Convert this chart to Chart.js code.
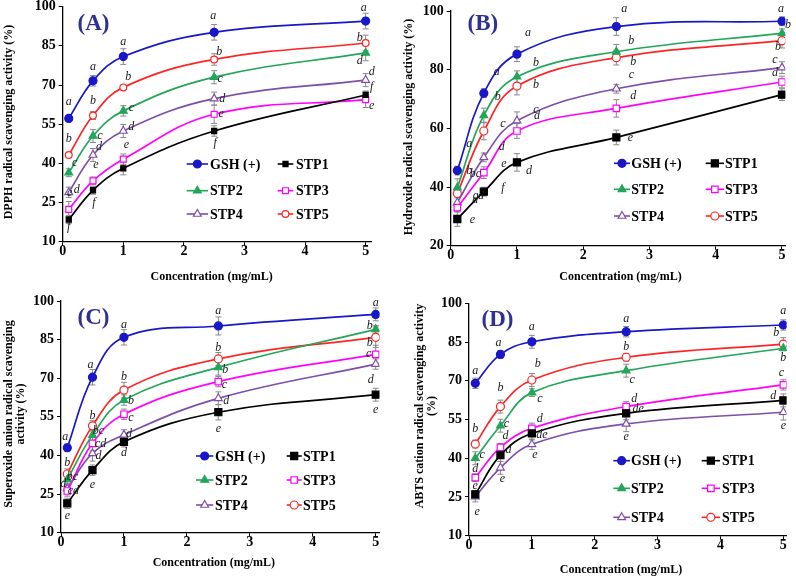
<!DOCTYPE html>
<html>
<head>
<meta charset="utf-8">
<script src="https://cdn.jsdelivr.net/npm/chart.js@4.4.1/dist/chart.umd.min.js"></script>
<style>
  body { margin: 0; background: #fff; }
  #wrap { position: relative; width: 796px; height: 578px; overflow: hidden; }
  canvas { position: absolute; }
</style>
</head>
<body>
<div id="wrap">
  <canvas id="chartA" width="398" height="289" style="left:0;top:0"></canvas>
  <canvas id="chartB" width="398" height="289" style="left:398px;top:0"></canvas>
  <canvas id="chartC" width="398" height="289" style="left:0;top:289px"></canvas>
  <canvas id="chartD" width="398" height="289" style="left:398px;top:289px"></canvas>
</div>
<script>
// ---- data ----
const conc = [0.1, 0.5, 1, 2.5, 5];
const seriesNames = ['GSH (+)', 'STP1', 'STP2', 'STP3', 'STP4', 'STP5'];
const xTicks = [0, 1, 2, 3, 4, 5];
const yTicks15 = [10, 25, 40, 55, 70, 85, 100];
const yTicks20 = [20, 40, 60, 80, 100];

// rows follow seriesNames: GSH, STP1, STP2, STP3, STP4, STP5
const dpphMean = [
  [57.2, 71.6, 80.9, 90.2, 94.5],
  [18.5, 29.7, 38.1, 52.4, 66.2],
  [36.4, 50.5, 60.1, 73.0, 82.3],
  [22.4, 33.3, 41.6, 58.8, 64.4],
  [28.9, 43.2, 52.4, 64.8, 71.9],
  [43.2, 58.3, 69.1, 79.8, 86.1]
];
const dpphSD = [
  [1.0, 2.0, 3.0, 3.0, 3.0],
  [1.5, 1.5, 2.5, 2.0, 1.5],
  [1.5, 2.5, 2.0, 2.5, 3.0],
  [3.0, 1.5, 2.0, 3.5, 3.0],
  [2.0, 2.5, 2.5, 2.5, 2.5],
  [0.5, 1.5, 0.8, 2.2, 3.0]
];
const dpphLetters = [
  ['a', 'a', 'a', 'a', 'a'],
  ['f', 'f', '', 'f', 'f'],
  ['c', 'c', 'c', 'c', 'd'],
  ['e', 'e', 'e', 'e', 'e'],
  ['d', 'd', 'd', 'd', 'd'],
  ['b', 'b', 'b', 'b', 'b']
];

const hydroxMean = [
  [45.6, 72.0, 85.3, 94.7, 96.5],
  [29.1, 38.4, 48.4, 56.9, 71.5],
  [39.8, 64.4, 77.6, 86.1, 92.4],
  [33.0, 44.9, 59.1, 66.8, 75.8],
  [34.7, 50.1, 62.6, 73.5, 80.7],
  [37.8, 59.1, 74.4, 84.1, 89.9]
];
const hydroxSD = [
  [1.5, 1.5, 2.5, 3.0, 1.5],
  [2.5, 1.5, 3.0, 2.5, 2.0],
  [3.0, 2.5, 2.0, 2.5, 1.5],
  [1.5, 2.0, 2.5, 3.0, 2.0],
  [2.0, 1.5, 3.0, 1.5, 2.0],
  [1.5, 3.0, 3.0, 2.5, 2.5]
];
const hydroxLetters = [
  ['a', 'a', 'a', 'a', 'a'],
  ['e', 'f', 'd', 'e', ''],
  ['b', 'b', 'b', 'b', 'b'],
  ['d', 'e', 'd', 'd', 'd'],
  ['cd', 'd', 'c', 'c', 'c'],
  ['bc', 'c', 'b', 'b', 'b']
];

const superMean = [
  [43.0, 70.4, 85.9, 90.3, 94.8],
  [21.4, 34.3, 45.3, 56.8, 63.6],
  [30.7, 47.9, 61.5, 74.2, 89.0],
  [26.2, 44.7, 56.0, 68.7, 79.3],
  [27.2, 40.8, 48.0, 62.2, 75.5],
  [32.8, 51.5, 65.4, 77.5, 85.9]
];
const superSD = [
  [1.5, 3.0, 3.0, 3.5, 2.5],
  [2.0, 2.0, 2.0, 3.0, 2.5],
  [2.0, 2.0, 2.0, 3.0, 1.5],
  [2.0, 3.0, 2.0, 2.0, 3.5],
  [2.0, 3.0, 2.0, 2.5, 2.0],
  [2.0, 2.0, 3.0, 2.5, 4.0]
];
const superLetters = [
  ['a', 'a', 'a', 'a', 'a'],
  ['e', 'e', 'd', 'e', 'e'],
  ['bc', 'bc', 'b', 'b', 'b'],
  ['cd', 'cd', 'c', 'c', 'c'],
  ['d', 'd', 'd', 'd', 'd'],
  ['b', 'b', 'b', 'b', 'b']
];

const abtsMean = [
  [69.0, 80.2, 85.1, 89.0, 91.6],
  [26.0, 41.2, 49.6, 57.4, 62.4],
  [40.0, 52.6, 65.4, 73.9, 82.6],
  [32.5, 44.2, 51.6, 60.0, 68.4],
  [25.1, 36.3, 45.4, 53.3, 57.8],
  [45.5, 60.0, 70.3, 79.1, 84.2]
];
const abtsSD = [
  [2.0, 1.5, 2.5, 2.0, 2.0],
  [1.5, 2.5, 2.5, 2.5, 2.5],
  [2.5, 2.5, 1.5, 2.5, 1.0],
  [1.5, 1.5, 2.0, 2.0, 2.0],
  [2.0, 2.5, 2.0, 3.0, 3.0],
  [1.5, 2.5, 2.5, 1.5, 2.5]
];
const abtsLetters = [
  ['a', 'a', 'a', 'a', 'a'],
  ['e', 'd', 'de', 'de', 'd'],
  ['c', 'c', 'c', 'c', 'b'],
  ['d', 'd', 'd', 'd', 'c'],
  ['e', 'e', 'e', 'e', 'e'],
  ['b', 'b', 'b', 'b', 'b']
];

// ---- styling ----
const FONT = '"Liberation Serif", "Times New Roman", serif';
const colors = ['#1818c8', '#000000', '#22a65a', '#ff00ff', '#7d4fab', '#ff2424'];
const markers = ['circle', 'rect', 'triangle', 'rect', 'triangle', 'circle'];
const filled = [true, true, true, false, false, false];
const CW = 398, CH = 289;

// pixel offsets of the significance letters from their points
const offA = [
  [[0,-17],[0,-14],[0,-15],[-1,-16],[-2,-13]],
  [[0,7],[1,13],[0,0],[1,12],[6,-8]],
  [[6,-10],[7,0],[8,-3],[6,2],[-6,8]],
  [[1,-16],[3,-16],[3,-14],[7,0],[6,6]],
  [[8,-3],[6,-8],[8,-4],[8,0],[6,-8]],
  [[0,-16],[0,-15],[5,-11],[5,-8],[-6,-5]]
];
const offB = [
  [[12,-27],[13,-21],[11,-21],[8,-18],[-1,-12]],
  [[15,1],[19,-4],[12,8],[14,0],[0,0]],
  [[12,-17],[14,-19],[19,-14],[15,-11],[6,-8]],
  [[18,-8],[20,-9],[20,-15],[17,-13],[-7,-9]],
  [[21,-7],[18,-11],[19,-11],[15,-14],[-7,-8]],
  [[18,-20],[19,-7],[19,-1],[17,4],[-4,6]]
];
const offC = [
  [[-2,-11],[-2,-12],[0,-12],[0,-15],[0,-12]],
  [[0,12],[0,15],[0,11],[0,17],[0,15]],
  [[5,-3],[6,-4],[7,1],[7,2],[-6,-3]],
  [[6,0],[8,0],[7,4],[6,3],[-7,0]],
  [[-4,-5],[6,2],[5,-1],[8,3],[-5,16]],
  [[0,-11],[0,-10],[0,-13],[0,-11],[-6,6]]
];
const offD = [
  [[0,-13],[-2,-12],[0,-15],[0,-13],[0,-14]],
  [[0,-9],[8,-5],[10,1],[12,-4],[-10,-5]],
  [[7,-3],[6,-2],[8,6],[6,9],[0,10]],
  [[0,-9],[5,-12],[8,-9],[8,-8],[-2,-12]],
  [[2,15],[2,11],[3,11],[0,13],[0,14]],
  [[0,-15],[0,-19],[6,-16],[0,-10],[-7,-11]]
];

const radiusA = [4, 3.6, 4.5, 4.2, 4.5, 3.4];
const radiusBig = [4, 5, 4.5, 4.6, 4.5, 4];

const panels = [
  {
    id: 'chartA', label: '(A)', labelPos: [93.5, 24],
    mean: dpphMean, sd: dpphSD, letters: dpphLetters, off: offA,
    yTicks: yTicks15, xMax: 5.1, radius: radiusA,
    area: {left: 62.7, right: 371.7, top: 6.7, bottom: 241.7},
    yTitle: [{text: 'DPPH radical scavenging activity (%)', x: 9, y: 122}],
    xTitle: [211.7, 277],
    legend: {rows: [164, 190.7, 214], cols: [[186.7, 208, 210], [277.7, 293.3, 296]]}
  },
  {
    id: 'chartB', label: '(B)', labelPos: [84.8, 24],
    mean: hydroxMean, sd: hydroxSD, letters: hydroxLetters, off: offB,
    yTicks: yTicks20, xMax: 5.05, radius: radiusBig,
    area: {left: 52.7, right: 387.3, top: 11, bottom: 245.7},
    yTitle: [{text: 'Hydroxide radical scavenging activity (%)', x: 11, y: 127}],
    xTitle: [222.5, 276.7],
    legend: {rows: [163.3, 189.3, 216], cols: [[216, 232, 233.3], [307.7, 326, 327]]}
  },
  {
    id: 'chartC', label: '(C)', labelPos: [93.5, 29],
    mean: superMean, sd: superSD, letters: superLetters, off: offC,
    yTicks: yTicks15, xMax: 5.06, radius: radiusBig,
    area: {left: 61, right: 379.5, top: 12, bottom: 243.7},
    yTitle: [{text: 'Superoxide anion radical scavenging', x: 9, y: 125},
             {text: 'activity (%)', x: 20.5, y: 125}],
    xTitle: [213.8, 273.7],
    legend: {rows: [167, 191, 216], cols: [[196, 213.3, 215], [286.7, 301.7, 303]]}
  },
  {
    id: 'chartD', label: '(D)', labelPos: [99.5, 31],
    mean: abtsMean, sd: abtsSD, letters: abtsLetters, off: offD,
    yTicks: yTicks15, xMax: 5.05, radius: radiusBig,
    area: {left: 71, right: 388.5, top: 14.3, bottom: 246.7},
    yTitle: [{text: 'ABTS cation radical scavenging activity', x: 22, y: 117},
             {text: '(%)', x: 33.7, y: 117}],
    xTitle: [223, 281],
    legend: {rows: [171.7, 199.3, 228.3], cols: [[215.3, 232, 233], [303.7, 322, 324]]}
  }
];

function decoPlugin(p) {
  return {
    id: 'deco',
    beforeDatasetsDraw(chart) {
      const ctx = chart.ctx, xs = chart.scales.x, ys = chart.scales.y;
      ctx.save();
      ctx.strokeStyle = '#8a8a8a';
      ctx.lineWidth = 1;
      p.mean.forEach((row, i) => {
        row.forEach((v, j) => {
          const x = xs.getPixelForValue(conc[j]);
          const y1 = ys.getPixelForValue(v + p.sd[i][j]);
          const y2 = ys.getPixelForValue(v - p.sd[i][j]);
          ctx.beginPath();
          ctx.moveTo(x, y1); ctx.lineTo(x, y2);
          ctx.moveTo(x - 3, y1); ctx.lineTo(x + 3, y1);
          ctx.moveTo(x - 3, y2); ctx.lineTo(x + 3, y2);
          ctx.stroke();
        });
      });
      ctx.restore();
    },
    afterDatasetsDraw(chart) {
      const ctx = chart.ctx, xs = chart.scales.x, ys = chart.scales.y;
      ctx.save();
      // significance letters
      ctx.fillStyle = '#1a1a1a';
      ctx.font = 'italic 12px ' + FONT;
      ctx.textAlign = 'center';
      ctx.textBaseline = 'middle';
      p.letters.forEach((row, i) => {
        row.forEach((t, j) => {
          if (!t) return;
          const x = xs.getPixelForValue(conc[j]) + p.off[i][j][0];
          const y = ys.getPixelForValue(p.mean[i][j]) + p.off[i][j][1];
          ctx.fillText(t, x, y);
        });
      });
      // legend, 3 rows x 2 columns
      ctx.font = 'bold 14px ' + FONT;
      ctx.textAlign = 'left';
      seriesNames.forEach((name, i) => {
        const r = Math.floor(i / 2), c = i % 2;
        const [x1, x2, tx] = p.legend.cols[c];
        const y = p.legend.rows[r];
        ctx.strokeStyle = colors[i];
        ctx.lineWidth = 1.6;
        ctx.beginPath(); ctx.moveTo(x1, y); ctx.lineTo(x2, y); ctx.stroke();
        ctx.fillStyle = filled[i] ? colors[i] : '#ffffff';
        ctx.lineWidth = 1.2;
        Chart.helpers.drawPoint(ctx, {pointStyle: markers[i], radius: p.radius[i], borderWidth: 1.2}, (x1 + x2) / 2, y);
        ctx.fillStyle = '#000';
        ctx.fillText(name, tx, y + 1);
      });
      // panel label
      ctx.fillStyle = '#2e3192';
      ctx.font = 'bold 23px ' + FONT;
      ctx.textAlign = 'center';
      ctx.fillText(p.label, p.labelPos[0], p.labelPos[1]);
      // axis titles
      ctx.fillStyle = '#000';
      ctx.font = 'bold 12px ' + FONT;
      ctx.fillText('Concentration (mg/mL)', p.xTitle[0], p.xTitle[1]);
      p.yTitle.forEach(t => {
        ctx.save();
        ctx.translate(t.x, t.y);
        ctx.rotate(-Math.PI / 2);
        ctx.fillText(t.text, 0, 0);
        ctx.restore();
      });
      ctx.restore();
    }
  };
}

function makePanel(p) {
  const datasets = seriesNames.map((name, i) => ({
    label: name,
    data: conc.map((c, j) => ({x: c, y: p.mean[i][j]})),
    borderColor: colors[i],
    backgroundColor: filled[i] ? colors[i] : '#ffffff',
    pointBackgroundColor: filled[i] ? colors[i] : '#ffffff',
    pointBorderColor: colors[i],
    pointStyle: markers[i],
    pointRadius: p.radius[i],
    pointBorderWidth: 1.2,
    borderWidth: 1.7,
    tension: 0.4,
    fill: false
  }));
  const tickFont = {family: FONT, size: 14, weight: 'bold'};
  return new Chart(document.getElementById(p.id), {
    type: 'line',
    data: {datasets: datasets},
    options: {
      responsive: false,
      animation: false,
      events: [],
      layout: {padding: {left: 0, top: p.area.top, right: CW - p.area.right, bottom: 0}},
      plugins: {legend: {display: false}, tooltip: {enabled: false}},
      scales: {
        x: {
          type: 'linear', min: 0, max: p.xMax,
          afterBuildTicks: axis => { axis.ticks = xTicks.map(v => ({value: v})); },
          afterFit: axis => { axis.height = CH - p.area.bottom; axis.paddingLeft = 0; axis.paddingRight = 0; },
          grid: {drawOnChartArea: false, drawTicks: true, tickLength: 4, color: '#000'},
          border: {display: true, color: '#000', width: 1.3},
          ticks: {font: tickFont, color: '#000', padding: -3, maxRotation: 0}
        },
        y: {
          type: 'linear', min: p.yTicks[0], max: p.yTicks[p.yTicks.length - 1],
          afterBuildTicks: axis => { axis.ticks = p.yTicks.map(v => ({value: v})); },
          afterFit: axis => { axis.width = p.area.left; axis.paddingTop = 0; axis.paddingBottom = 0; },
          grid: {drawOnChartArea: false, drawTicks: true, tickLength: 4, color: '#000'},
          border: {display: true, color: '#000', width: 1.3},
          ticks: {font: tickFont, color: '#000', padding: 3}
        }
      }
    },
    plugins: [decoPlugin(p)]
  });
}

panels.forEach(makePanel);
</script>
</body>
</html>
